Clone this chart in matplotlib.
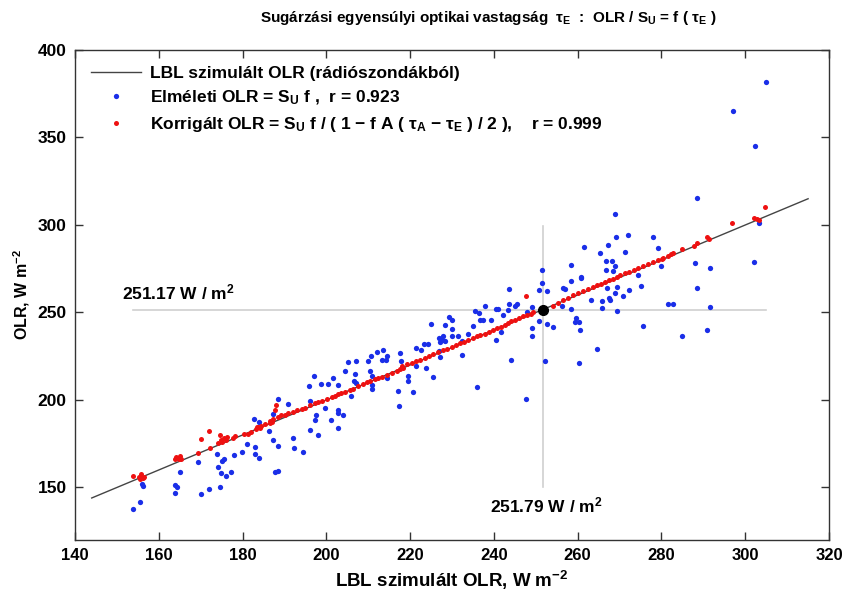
import matplotlib
matplotlib.use("Agg")
import matplotlib.pyplot as plt

plt.rcParams['font.family'] = ['Liberation Sans', 'DejaVu Sans']
plt.rcParams['font.weight'] = 'bold'
plt.rcParams['mathtext.fontset'] = 'custom'
plt.rcParams['mathtext.rm'] = 'Liberation Sans:bold'
plt.rcParams['mathtext.it'] = 'Liberation Sans:bold'
plt.rcParams['mathtext.bf'] = 'Liberation Sans:bold'

# Elmeleti OLR (blue): LBL OLR vs S_U f
blue_lbl = [153.9, 155.5, 155.9, 156.3, 163.9, 164.4, 163.9, 165.1, 169.4, 170.1,
            172.0, 173.8, 174.6, 174.2, 174.8, 175.2, 175.6, 176.0, 177.2, 177.9,
            179.9, 181.0, 183.0, 183.0, 184.0, 182.7, 184.0, 186.4, 187.3, 187.7,
            188.5, 188.5, 187.3, 188.4, 190.9, 192.1, 192.3, 194.5, 195.8, 196.1,
            197.0, 197.5, 197.3, 196.1, 198.1, 198.7, 200.3, 199.8, 201.6, 202.7,
            202.7, 204.0, 201.1, 202.8, 202.8, 204.4, 205.1, 207.0, 206.8, 206.7,
            207.2, 205.9, 210.0, 210.6, 212.0, 213.6, 213.2, 214.4, 214.2, 210.4,
            210.8, 211.0, 210.8, 214.4, 217.6, 217.8, 217.0, 217.3, 220.7, 219.5,
            219.5, 221.5, 223.9, 221.4, 222.6, 223.3, 224.3, 225.5, 224.9, 227.0,
            227.5, 227.8, 228.3, 227.2, 228.3, 229.3, 229.9, 230.1, 229.9, 231.5,
            226.9, 227.1, 232.3, 232.3, 233.9, 234.9, 236.0, 235.5, 236.5, 236.7,
            237.4, 237.9, 239.4, 240.5, 241.0, 241.6, 240.6, 242.1, 243.4, 243.7,
            243.7, 244.0, 245.0, 245.4, 247.8, 247.6, 249.2, 249.2, 249.2, 250.8,
            251.6, 251.6, 250.8, 252.2, 252.7, 252.7, 254.0, 256.2, 256.5, 256.9,
            258.5, 258.5, 258.5, 260.7, 260.9, 261.6, 263.1, 259.7, 260.4, 259.3,
            260.5, 260.4, 264.7, 265.3, 265.7, 265.7, 266.7, 266.7, 267.0, 267.5,
            267.8, 267.3, 268.3, 268.5, 268.9, 268.9, 269.1, 269.4, 268.9, 269.4,
            270.7, 271.4, 272.1, 272.3, 274.4, 275.2, 275.6, 277.9, 279.2, 280.0,
            281.6, 282.8, 304.9, 297.0, 302.3, 288.5, 303.2, 302.1, 288.0, 291.6,
            288.4, 291.6, 284.8, 290.9]
blue_olr = [137.8, 141.8, 152.1, 150.7, 151.7, 150.4, 146.6, 158.7, 164.4, 146.4,
            148.9, 169.0, 150.2, 161.8, 158.0, 165.0, 166.0, 156.8, 158.7, 168.7,
            170.0, 174.7, 173.4, 169.2, 167.0, 189.4, 187.3, 182.0, 177.4, 158.8,
            159.3, 173.6, 192.0, 200.6, 197.9, 178.4, 172.3, 170.2, 208.2, 199.3,
            213.5, 191.7, 188.4, 183.1, 180.2, 209.2, 209.2, 195.3, 212.6, 194.5,
            192.6, 191.7, 188.4, 184.2, 208.5, 216.8, 221.5, 222.1, 215.1, 210.7,
            209.8, 202.1, 222.1, 224.9, 227.2, 228.4, 222.7, 225.3, 222.7, 216.4,
            213.6, 208.8, 206.3, 212.6, 226.9, 222.1, 205.4, 196.4, 204.4, 213.5,
            211.1, 219.3, 218.4, 229.7, 228.8, 232.0, 232.2, 213.0, 243.4, 235.5,
            234.0, 236.4, 233.5, 233.0, 243.0, 247.4, 245.5, 240.6, 236.8, 236.4,
            227.8, 224.4, 225.9, 233.5, 237.9, 242.1, 207.5, 251.0, 249.7, 245.9,
            245.9, 253.5, 245.9, 252.2, 252.2, 238.6, 234.1, 248.7, 251.2, 255.0,
            263.4, 223.1, 253.5, 255.0, 250.1, 200.6, 253.1, 241.3, 236.4, 262.6,
            266.8, 274.4, 244.9, 222.5, 262.4, 243.6, 241.7, 253.9, 264.0, 263.4,
            277.3, 267.8, 252.0, 270.3, 269.8, 287.7, 256.9, 246.9, 244.4, 244.6,
            240.2, 221.2, 229.3, 284.0, 256.4, 252.6, 279.2, 274.4, 264.0, 258.3,
            257.3, 288.7, 279.2, 273.5, 276.3, 306.4, 293.1, 264.6, 261.1, 251.0,
            259.2, 284.5, 294.4, 262.6, 271.6, 264.9, 242.1, 293.1, 286.8, 276.3,
            254.9, 254.9, 381.6, 365.4, 345.2, 315.7, 301.1, 278.6, 278.3, 275.4,
            264.0, 253.1, 236.8, 239.8]

# Korrigalt OLR (red)
red_lbl = [153.9, 155.3, 155.8, 156.2, 155.6, 156.5, 164.0, 164.4, 164.9, 165.3,
           165.0, 163.8, 169.4, 170.1, 172.1, 172.2, 174.2, 174.6, 174.8, 175.2,
           175.6, 176.0, 176.4, 177.7, 178.1, 180.4, 181.3, 182.0, 183.1, 183.6,
           184.2, 184.5, 186.6, 187.0, 187.7, 188.1,
           183.4, 185.4, 186.5, 187.3, 188.5, 189.3, 190.1, 190.9, 192.1, 192.9,
           194.1, 194.9, 196.1, 197.3, 198.1, 198.9, 200.1, 201.3, 202.1, 202.9,
           203.6, 204.4, 205.6, 206.4, 207.6, 208.8, 209.6, 210.4, 211.6, 212.4,
           213.2, 214.4, 215.6, 216.8, 217.6, 218.4,
           218.0, 219.2, 220.4, 221.4, 222.3, 223.5, 224.6, 225.5, 226.7, 227.9,
           228.9, 229.9, 230.9, 231.9, 232.8, 233.9, 234.9, 235.9, 236.8, 237.9,
           238.9, 239.8, 240.8, 241.8, 242.6, 243.4, 244.2, 245.0, 246.1, 247.0,
           248.0, 248.8, 249.4, 247.6,
           254.0, 255.4, 256.5, 257.7, 258.9, 260.1, 261.3, 262.5, 263.6, 264.5,
           265.5, 266.5, 267.5, 268.5, 269.4, 270.2, 271.3, 272.3, 273.4, 274.5,
           275.6, 276.8, 278.0, 279.2, 280.4, 281.6,
           280.2, 282.2, 282.8, 284.9, 287.8, 288.4, 290.8, 291.3, 296.9, 302.1,
           302.7, 303.2, 304.8]
red_olr = [156.8, 156.2, 157.5, 155.4, 155.0, 156.0, 167.5, 166.8, 166.3, 166.0,
           167.8, 166.5, 169.6, 177.8, 182.5, 172.8, 175.5, 180.2, 177.0, 176.0,
           178.5, 177.3, 178.8, 178.5, 179.2, 180.8, 180.6, 181.5, 183.2, 184.6,
           184.0, 185.2, 186.8, 187.2, 194.5, 197.2,
           184.5, 186.3, 187.8, 188.9, 190.5, 191.2, 191.7, 192.4, 193.4, 194.2,
           195.0, 195.7, 196.9, 198.2, 198.9, 199.5, 200.6, 201.6, 202.4, 203.5,
           204.1, 204.8, 205.8, 206.5, 207.9, 209.3, 210.2, 211.0, 212.0, 212.8,
           213.4, 214.3, 215.4, 216.5, 217.6, 218.3,
           219.3, 220.4, 221.2, 222.0, 223.1, 224.2, 225.1, 226.0, 227.3, 228.4,
           229.4, 230.4, 231.3, 232.3, 233.2, 234.3, 235.5, 236.4, 237.1, 237.9,
           239.0, 240.0, 240.9, 241.9, 242.8, 243.9, 245.0, 245.8, 246.9, 247.8,
           248.6, 249.4, 250.0, 259.2,
           253.9, 255.4, 256.9, 258.4, 259.8, 261.1, 262.2, 263.5, 264.5, 265.5,
           266.5, 267.5, 268.5, 269.4, 270.4, 271.3, 272.3, 273.2, 274.1, 275.2,
           276.4, 277.5, 278.6, 279.8, 281.1, 282.4,
           280.5, 283.4, 283.9, 286.4, 288.1, 289.6, 293.1, 291.9, 301.1, 303.9,
           303.3, 303.0, 310.0]

line_ends = [144, 315]
mean_lbl = 251.79
mean_olr = 251.17
hline_x = [153.8, 305.0]
vline_y = [150.5, 299.5]

fig = plt.figure(figsize=(8.47, 5.93), dpi=100)
ax = fig.add_axes([0.0885, 0.0894, 0.8903, 0.8263])

ax.plot(hline_x, [mean_olr, mean_olr], color='#d0d0d0', lw=1.2, zorder=1)
ax.plot([mean_lbl, mean_lbl], vline_y, color='#d0d0d0', lw=1.2, zorder=1)

ax.plot(line_ends, line_ends, color='#444444', lw=1.0, zorder=2,
        label='LBL szimulált OLR (rádiószondákból)')
ax.plot(blue_lbl, blue_olr, ls='none', marker='o', ms=3.8, mec='none',
        color='#1a2ee8', zorder=3, label=r'Elméleti OLR = S$_\mathrm{U}$ f ,  r = 0.923')
ax.plot(red_lbl, red_olr, ls='none', marker='o', ms=3.6, mec='none',
        color='#ee1111', zorder=4,
        label=r'Korrigált OLR = S$_\mathrm{U}$ f / ( 1 − f A ( $\tau_\mathrm{A}$ − $\tau_\mathrm{E}$ ) / 2 ),    r = 0.999')
ax.plot([mean_lbl], [mean_olr], ls='none', marker='o', ms=7, color='black', zorder=5)

ax.text(151.3, 257.5, r'251.17 W / m$^\mathrm{2}$', fontsize=12.5, fontweight='bold')
ax.text(239.0, 136.0, r'251.79 W / m$^\mathrm{2}$', fontsize=12.5, fontweight='bold')

ax.set_xlim(140, 320)
ax.set_ylim(120, 400)
ax.set_xticks(range(140, 321, 20))
ax.set_yticks(range(150, 401, 50))
ax.tick_params(direction='in', top=True, right=True, length=6, width=1,
               labelsize=12, color='#333333', pad=6)
ax.tick_params(axis='y', labelsize=12.5)
for s in ax.spines.values():
    s.set_color('#333333')
    s.set_linewidth(1.0)

ax.set_xlabel(r'LBL szimulált OLR, W m$^{-2}$', fontsize=13.5, fontweight='bold',
              labelpad=4)
ax.set_ylabel(r'OLR, W m$^{-2}$', fontsize=11.5, fontweight='bold')
fig.text(0.576, 0.969, r'Sugárzási egyensúlyi optikai vastagság  $\tau_\mathrm{E}$  :  OLR / S$_\mathrm{U}$ = f ( $\tau_\mathrm{E}$ )',
         ha='center', va='center', fontsize=11, fontweight='bold')

leg = ax.legend(loc='upper left', frameon=False, fontsize=12.5, handlelength=2.9,
                handletextpad=0.5, labelspacing=0.45, borderaxespad=0.6,
                numpoints=1, borderpad=0.3)

fig.savefig('out.png', dpi=100)
